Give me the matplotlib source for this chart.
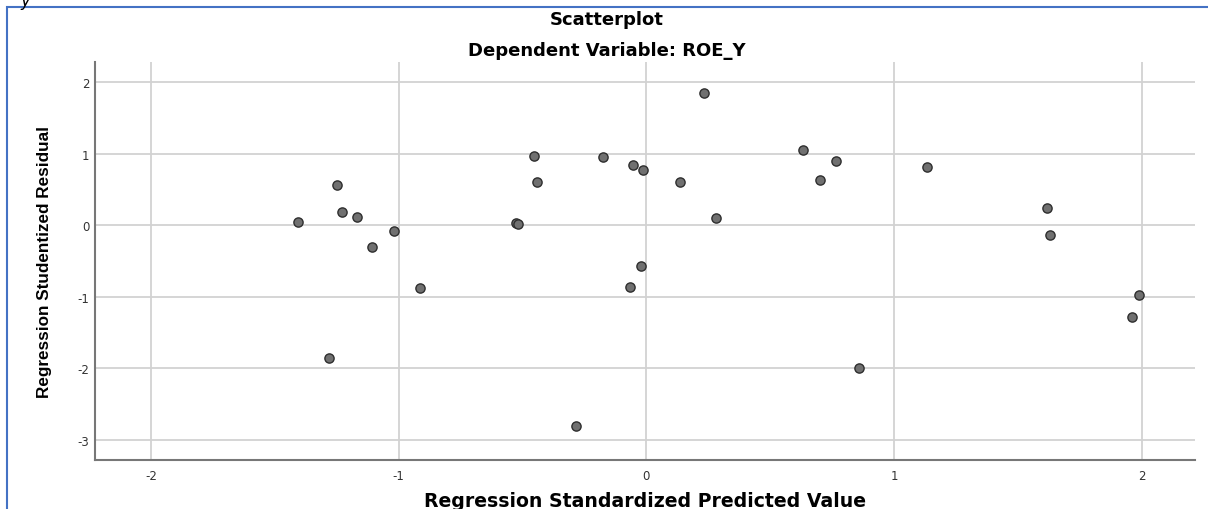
import numpy as np
import matplotlib
matplotlib.use('Agg')
import matplotlib.pyplot as plt
from matplotlib.patches import Rectangle

plt.rcParams['font.family'] = ['DejaVu Sans']
plt.rcParams['axes.unicode_minus'] = False

####### Values

pred_std = [-1.409, -1.25, -1.23, -1.17, -1.02, -1.107, -0.915, -1.283,
            -0.525, -0.518, -0.453, -0.443, -0.283,
            -0.176, -0.054, -0.015, 0.136, 0.233, 0.28, -0.02, -0.065,
            0.633, 0.764, 0.70, 0.859,
            1.134, 1.618, 1.632, 1.988, 1.961]
resid_stud = [0.046, 0.57, 0.18, 0.11, -0.075, -0.31, -0.876, -1.863,
              0.03, 0.02, 0.968, 0.61, -2.81,
              0.96, 0.846, 0.776, 0.607, 1.855, 0.098, -0.565, -0.87,
              1.05, 0.893, 0.627, -1.993,
              0.81, 0.246, -0.131, -0.978, -1.277]

x_ticks = [-2, -1, 0, 1, 2]
y_ticks = [-3, -2, -1, 0, 1, 2]

title_1 = 'Scatterplot'
title_2 = 'Dependent Variable: ROE_Y'
x_label = 'Regression Standardized Predicted Value'
y_label = 'Regression Studentized Residual'

W, H = 1208, 510
fig = plt.figure(figsize=(W/100, H/100), dpi=100)
fig.patch.set_facecolor('white')

ax = fig.add_axes([95/W, 1-461/H, (1195-95)/W, (461-63)/H])

ax.scatter(pred_std, resid_stud, s=44, facecolor='#707070', edgecolor='#2e2e2e',
           linewidths=1.0, zorder=3)

ax.set_xlim(-2.227, 2.216)
ax.set_ylim(-3.283, 2.284)
ax.set_xticks(x_ticks)
ax.set_yticks(y_ticks)
ax.grid(True, color='#d2d2d2', linewidth=1.3, zorder=0)
ax.set_axisbelow(True)
ax.tick_params(length=0, labelsize=8.5, colors='#333333')
ax.tick_params(axis='x', pad=6.5)
ax.tick_params(axis='y', pad=4)

for s in ['top', 'right']:
    ax.spines[s].set_visible(False)
for s in ['left', 'bottom']:
    ax.spines[s].set_color('#777777')
    ax.spines[s].set_linewidth(1.5)

######## titles and labels

fig.text(607/W, 1-25/H, title_1, ha='center', va='baseline', fontsize=13, fontweight='bold')
fig.text(607/W, 1-56.5/H, title_2, ha='center', va='baseline', fontsize=13, fontweight='bold')
fig.text(645.5/W, 1-507.5/H, x_label, ha='center', va='baseline', fontsize=13.6, fontweight='bold')
fig.text(45/W, 1-262/H, y_label, ha='center', va='center', rotation=90, fontsize=12.3,
         fontweight='bold', family=['Liberation Sans', 'DejaVu Sans'])

# cropped letter from text above the picture
fig.text(20/W, 1-1/H, 'y', ha='left', va='center', fontsize=12, style='italic')

# blue frame
fig.patches.append(Rectangle((7/W, -0.05), 1.2, 1-7.5/H+0.05, transform=fig.transFigure,
                             fill=False, edgecolor='#4472c4', linewidth=1.5))

fig.savefig('out.png', dpi=100)
